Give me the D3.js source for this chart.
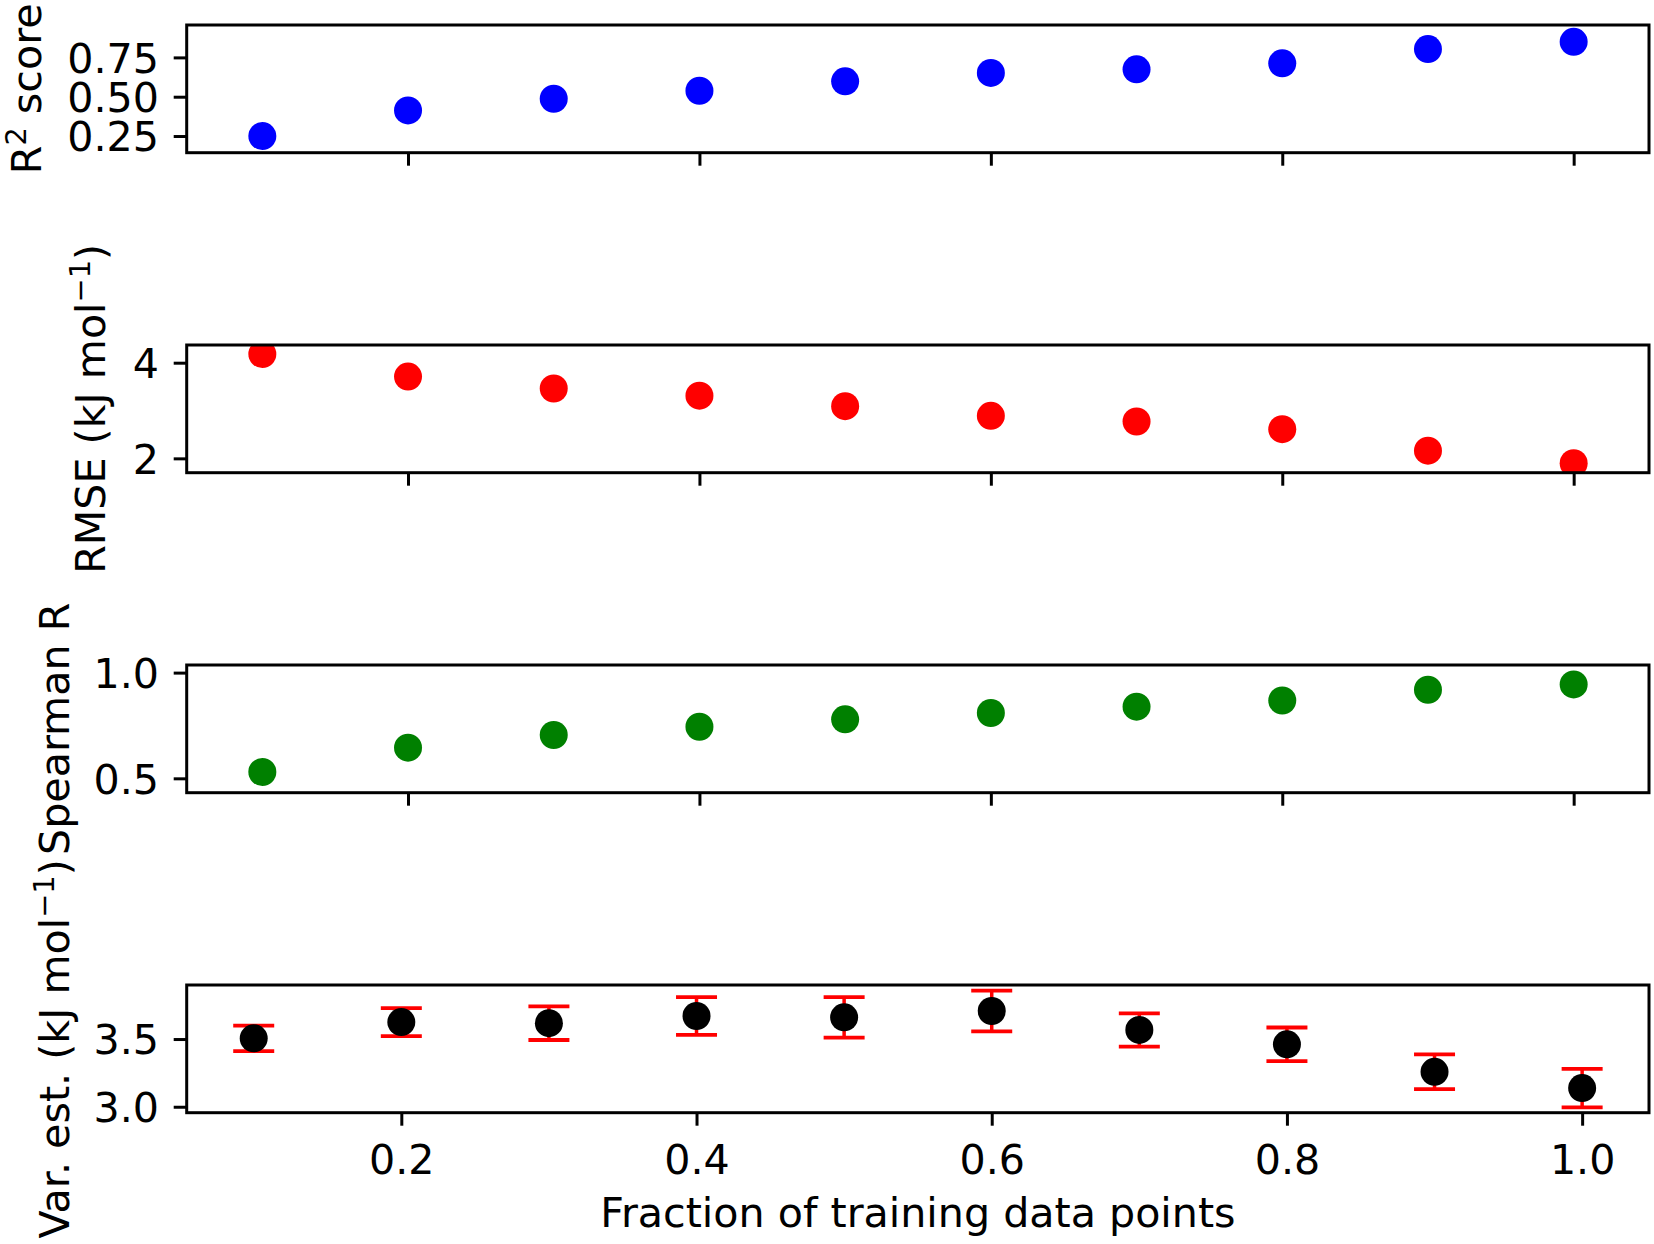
<!DOCTYPE html>
<html><head><meta charset="utf-8">
<script src="https://cdn.jsdelivr.net/npm/d3@7"></script>
<style>
body{margin:0;background:#fff}
svg{display:block;background:#fff}
text{font-family:"DejaVu Sans",sans-serif;fill:#000}
</style>
</head><body>
<svg id="chart" width="1654" height="1244"></svg>
<script>
// ---------- data ----------
const fractions = [0.1, 0.2, 0.3, 0.4, 0.5, 0.6, 0.7, 0.8, 0.9, 1.0];
const r2Score   = [0.250, 0.413, 0.487, 0.538, 0.598, 0.651, 0.674, 0.712, 0.803, 0.849];
const rmse      = [4.18, 3.71, 3.46, 3.31, 3.09, 2.89, 2.77, 2.61, 2.16, 1.90];
const spearmanR = [0.530, 0.645, 0.705, 0.744, 0.779, 0.809, 0.839, 0.868, 0.919, 0.944];
const varEst    = [3.505, 3.625, 3.617, 3.670, 3.660, 3.707, 3.567, 3.461, 3.258, 3.138];
const varErr    = [0.094, 0.103, 0.124, 0.140, 0.149, 0.150, 0.123, 0.124, 0.128, 0.142];

const r2Ticks = [0.25, 0.50, 0.75];       const r2TickLabels = ["0.25", "0.50", "0.75"];
const rmseTicks = [2, 4];                 const rmseTickLabels = ["2", "4"];
const spearTicks = [0.5, 1.0];            const spearTickLabels = ["0.5", "1.0"];
const varTicks = [3.0, 3.5];              const varTickLabels = ["3.0", "3.5"];
const xTicks = [0.2, 0.4, 0.6, 0.8, 1.0]; const xTickLabels = ["0.2", "0.4", "0.6", "0.8", "1.0"];
const xLabel = "Fraction of training data points";

// ---------- layout ----------
const svg = d3.select("#chart");
const FS = 41.2;
const L = 186.7, R = 1649;
const PH = 127.7;
const tickLen = 13;

const xTop = d3.scaleLinear().domain([0.0481, 1.0517]).range([L, R]);
const xBot = d3.scaleLinear().domain([0.0546, 1.0453]).range([L, R]);

const panels = [
  {top: 25,  vals: r2Score,   color: "#0000ff", dom: [0.144, 0.956], ticks: r2Ticks,    labels: r2TickLabels,    x: xTop, labelX: 40.5,
   ylab: [{t: "R"}, {t: "2", sup: true}, {t: " score"}]},
  {top: 345, vals: rmse,      color: "#ff0000", dom: [1.70, 4.37],   ticks: rmseTicks,  labels: rmseTickLabels,  x: xTop, labelX: 105,
   ylab: [{t: "RMSE (kJ mol"}, {t: "\u22121", sup: true}, {t: ")"}]},
  {top: 665, vals: spearmanR, color: "#008000", dom: [0.432, 1.036], ticks: spearTicks, labels: spearTickLabels, x: xTop, labelX: 69,
   ylab: [{t: "Spearman R"}]},
  {top: 985, vals: varEst,    color: "#000000", dom: [2.956, 3.899], ticks: varTicks,   labels: varTickLabels,   x: xBot, labelX: 69,
   ylab: [{t: "Var. est. (kJ mol"}, {t: "\u22121", sup: true}, {t: ")"}], err: varErr, bottom: true}
];

const defs = svg.append("defs");

panels.forEach((p, i) => {
  const y = d3.scaleLinear().domain(p.dom).range([p.top + PH, p.top]);
  const g = svg.append("g");

  defs.append("clipPath").attr("id", "clip" + i)
    .append("rect").attr("x", L).attr("y", p.top).attr("width", R - L).attr("height", PH);

  const plot = g.append("g").attr("clip-path", `url(#clip${i})`);

  if (p.err) {
    const eb = plot.append("g");
    fractions.forEach((fx, j) => {
      const cx = p.x(fx);
      const y1 = y(p.vals[j] + p.err[j]), y0 = y(p.vals[j] - p.err[j]);
      eb.append("line").attr("x1", cx).attr("x2", cx).attr("y1", y1).attr("y2", y0)
        .attr("stroke", "#ff0000").attr("stroke-width", 3.5);
      [y1, y0].forEach(cy => eb.append("line")
        .attr("x1", cx - 20.5).attr("x2", cx + 20.5).attr("y1", cy).attr("y2", cy)
        .attr("stroke", "#ff0000").attr("stroke-width", 3.8));
    });
  }

  plot.selectAll("circle").data(fractions).join("circle")
    .attr("cx", d => p.x(d))
    .attr("cy", (d, j) => y(p.vals[j]))
    .attr("r", 14)
    .attr("fill", p.color);

  // y axis
  const ya = d3.axisLeft(y).tickValues(p.ticks)
    .tickFormat((d, k) => p.labels[k]).tickSize(tickLen).tickSizeOuter(0).tickPadding(14.7);
  const yg = g.append("g").attr("transform", `translate(${L},0)`).call(ya);
  yg.select(".domain").remove();
  yg.attr("font-family", null).attr("font-size", null);
  yg.selectAll("line").attr("stroke", "#000").attr("stroke-width", 3);
  yg.selectAll("text").attr("font-size", FS).attr("dy", "0.36em").attr("fill", "#000");

  // x axis
  const xa = d3.axisBottom(p.x).tickValues(xTicks)
    .tickFormat((d, k) => p.bottom ? xTickLabels[k] : "")
    .tickSize(tickLen).tickSizeOuter(0).tickPadding(19);
  const xg = g.append("g").attr("transform", `translate(0,${p.top + PH})`).call(xa);
  xg.select(".domain").remove();
  xg.attr("font-family", null).attr("font-size", null);
  xg.selectAll("line").attr("stroke", "#000").attr("stroke-width", 3);
  xg.selectAll("text").attr("font-size", FS).attr("fill", "#000");

  // frame
  g.append("rect").attr("x", L).attr("y", p.top).attr("width", R - L).attr("height", PH)
    .attr("fill", "none").attr("stroke", "#000").attr("stroke-width", 3);

  // y label
  const t = g.append("text")
    .attr("transform", `translate(${p.labelX},${p.top + PH / 2}) rotate(-90)`)
    .attr("text-anchor", "middle").attr("font-size", FS);
  let raised = false;
  p.ylab.forEach(part => {
    const ts = t.append("tspan").text(part.t);
    if (part.sup) { ts.attr("font-size", FS * 0.7).attr("dy", -15); raised = true; }
    else if (raised) { ts.attr("dy", 15); raised = false; }
  });
});

// x label
svg.append("text").attr("x", (L + R) / 2).attr("y", 1227)
  .attr("text-anchor", "middle").attr("font-size", FS).text(xLabel);
</script>
</body></html>
